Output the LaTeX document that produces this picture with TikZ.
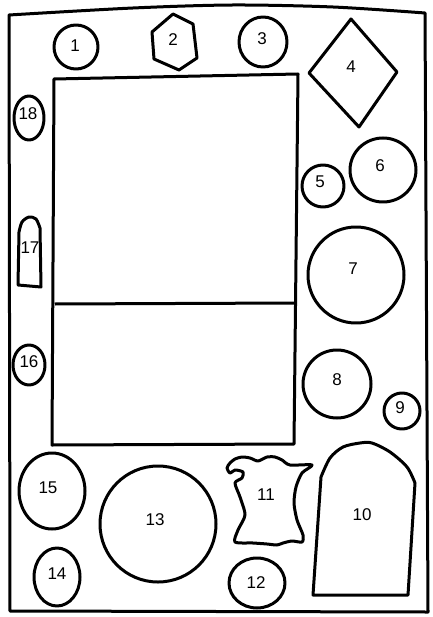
\documentclass[tikz,border=0pt]{standalone}
\usepackage{fontspec}
\setmainfont{Liberation Sans}
\begin{document}
\begin{tikzpicture}[x=1pt,y=-1pt,line width=3pt,line join=round,font=\fontsize{17}{17}\selectfont]
			\useasboundingbox (0,0) rectangle (432,617);
			\draw plot[smooth] coordinates{(9,15)(133,8)(233,5)(333,7)(425,13)} -- (428,612) -- (10,611) -- cycle;
			\draw (54,79) -- (298,74) -- (294,444) -- (52,445) -- cycle (55,304) -- (295,303);
			\foreach \x/\y/\rx/\ry in {76/47/22/22,263/42/24/25,323/186/21/21,383/170/33/32,356/275/48/48,337/384/34/34,402/411/18/18,257/583/28/25,158/524/58/58,57/577/23/29,52/491/33/38,29/365/16/20,29/118/15/22}\draw (\x,\y) ellipse[x radius=\rx,y radius=\ry];
			\draw (173,14)--(193,24)--(197,58)--(179,70)--(154,59)--(152,32)--cycle;
			\draw (351,19)--(397,72)--(359,127)--(309,73)--cycle;
			\draw (313,595) -- plot[smooth] coordinates{(321,477)(330,458)(343,447)(360,443)(372,443)(390,452)(407,467)(415,483)} -- (408,595) -- cycle;
			\draw (18,285) -- plot[smooth] coordinates{(19,232)(22,222)(29,217)(36,219)(40,228)} -- (41,287) -- cycle;
			\draw plot[smooth cycle,tension=.45] coordinates{(227,468)(230,463)(235,459)(242,457)(250,458)(258,461)(267,457)(275,457)(282,460)(290,465)(312,465)(302,473)(296,487)(294,503)(297,520)(303,535)(302,542)(292,541)(283,543)(277,545)(267,544)(253,543)(235,542)(238,530)(245,515)(240,497)(235,483)(242,478)(243,472)(235,470)(230,473)};
			\foreach \x/\y/\t in {75/46/1,173/40/2,262/39/3,351/67/4,320/182/5,380/166/6,353/269/7,337/380/8,400/408/9,362/515/10,266/495/11,256/583/12,155/520/13,57/574/14,48/488/15,29/362/16,30/248/17,28/114/18}\path (\x,\y) node(n\t){\t};
		\end{tikzpicture}
\end{document}
